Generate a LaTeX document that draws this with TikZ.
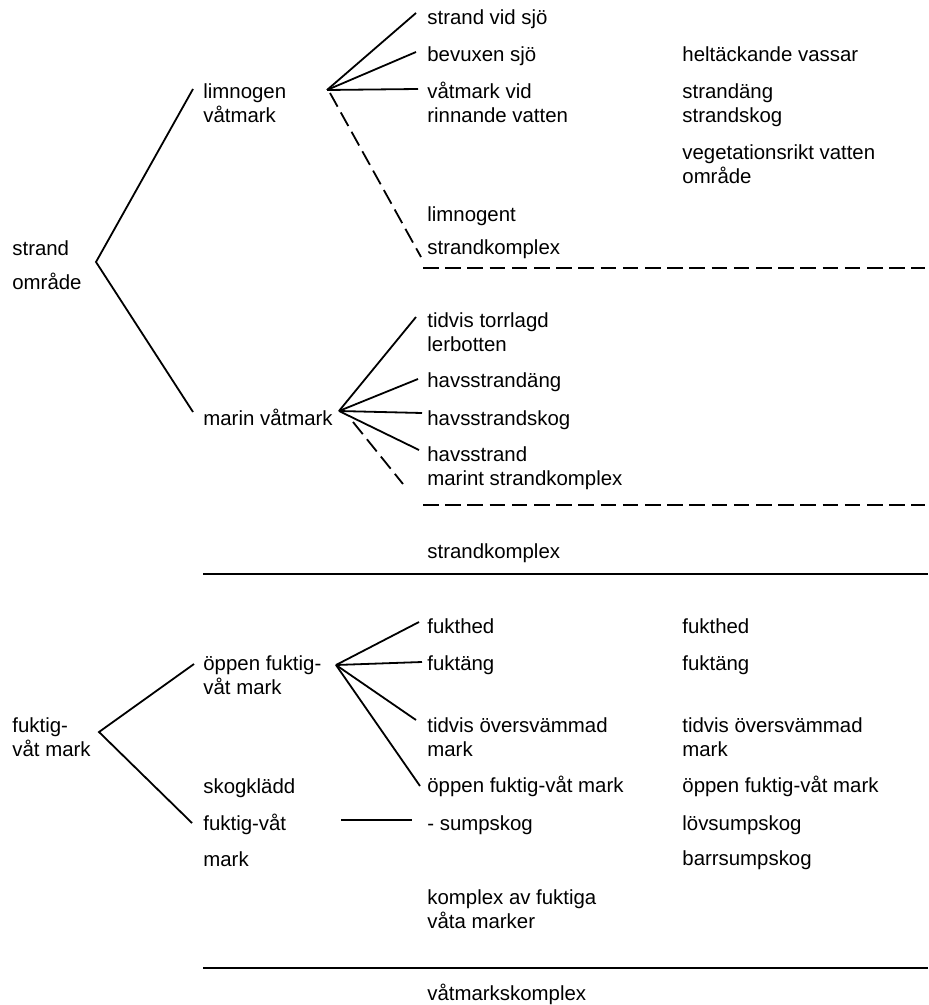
\documentclass[tikz,border=0pt]{standalone}
\usepackage{fontspec}
\setmainfont{Liberation Sans}
\tikzset{
  lbl/.style={anchor=base west, inner sep=0pt, align=left, font=\fontsize{10.2}{12}\selectfont},
  lnk/.style={line width=0.9pt},
  dsh/.style={line width=0.9pt, dash pattern=on 7.8pt off 3.3pt},
}
\begin{document}
\begin{tikzpicture}[x=0.5pt,y=-0.5pt]
  \useasboundingbox (0,0) rectangle (928,1005);

  % Place the first column (two-line nodes sit on their last line)
  \node[lbl] (strand) at (12,256) {strand};
  \node[lbl] (omr) at (12,290) {område};
  \node[lbl] (fuktvat) at (12,756) {fuktig-\\våt mark};

  % Place the second column
  \node[lbl] (limn) at (203,123) {limnogen\\våtmark};
  \node[lbl] (marin) at (203,425) {marin våtmark};
  \node[lbl] (oppen) at (203,694) {öppen fuktig-\\våt mark};
  \node[lbl] (skog) at (203,793) {skogklädd};
  \node[lbl] (fvat) at (203,830) {fuktig-våt};
  \node[lbl] (mark) at (203,866) {mark};

  % Place the third column
  \node[lbl] (sjo) at (427,25) {strand vid sjö};
  \node[lbl] (bevux) at (427,62) {bevuxen sjö};
  \node[lbl] (rinn) at (427,123) {våtmark vid\\rinnande vatten};
  \node[lbl] (limnt) at (427,222) {limnogent};
  \node[lbl] (skompl) at (427,255) {strandkomplex};
  \node[lbl] (torr) at (427,351) {tidvis torrlagd\\lerbotten};
  \node[lbl] (hang) at (427,387) {havsstrandäng};
  \node[lbl] (hskog) at (427,425) {havsstrandskog};
  \node[lbl] (hstrand) at (427,485) {havsstrand\\marint strandkomplex};
  \node[lbl] (strkompl) at (427,558) {strandkomplex};
  \node[lbl] (fhed) at (427,633) {fukthed};
  \node[lbl] (fang) at (427,670) {fuktäng};
  \node[lbl] (tidv) at (427,756) {tidvis översvämmad\\mark};
  \node[lbl] (oppfv) at (427,792) {öppen fuktig-våt mark};
  \node[lbl] (sump) at (427,830) {- sumpskog};
  \node[lbl] (kompl) at (427,928) {komplex av fuktiga\\våta marker};
  \node[lbl] (vkompl) at (427,1000) {våtmarkskomplex};

  % Place the fourth column
  \node[lbl] (helt) at (682,62) {heltäckande vassar};
  \node[lbl] (sang) at (682,123) {strandäng\\strandskog};
  \node[lbl] (veg) at (682,184) {vegetationsrikt vatten\\område};
  \node[lbl] (rfhed) at (682,633) {fukthed};
  \node[lbl] (rfang) at (682,670) {fuktäng};
  \node[lbl] (rtidv) at (682,756) {tidvis översvämmad\\mark};
  \node[lbl] (roppfv) at (682,792) {öppen fuktig-våt mark};
  \node[lbl] (lovs) at (682,830) {lövsumpskog};
  \node[lbl] (barrs) at (682,865) {barrsumpskog};

  % Branch points
  \coordinate (vStrand) at (96,262);
  \coordinate (fLimn) at (327,90);
  \coordinate (dLimn) at (330,93);
  \coordinate (fMarin) at (339,411);
  \coordinate (dMarin) at (353,422);
  \coordinate (vFukt) at (99,732);
  \coordinate (fOppen) at (336,665);

  % The lines!
  \draw[lnk] ([shift={(-10,-34)}]limn.base west) -- (vStrand) -- ([shift={(-10,-13)}]marin.base west);
  \draw[lnk] ([shift={(-9,-30)}]oppen.base west) -- (vFukt) -- ([shift={(-11,-7)}]fvat.base west);

  \draw[lnk] (fLimn) -- ([shift={(-11,-12)}]sjo.base west);
  \draw[lnk] (fLimn) -- ([shift={(-11,-10)}]bevux.base west);
  \draw[lnk] (fLimn) -- ([shift={(-9,-34)}]rinn.base west);
  \draw[dsh] (dLimn) -- ([shift={(-6,2)}]skompl.base west);

  \draw[lnk] (fMarin) -- ([shift={(-11,-34)}]torr.base west);
  \draw[lnk] (fMarin) -- ([shift={(-9,-8)}]hang.base west);
  \draw[lnk] (fMarin) -- ([shift={(-5,-12)}]hskog.base west);
  \draw[lnk] (fMarin) -- ([shift={(-8,-35)}]hstrand.base west);
  \draw[dsh] (dMarin) -- ([shift={(-24,-1)}]hstrand.base west);

  \draw[lnk] (fOppen) -- ([shift={(-8,-11)}]fhed.base west);
  \draw[lnk] (fOppen) -- ([shift={(-5,-8)}]fang.base west);
  \draw[lnk] (fOppen) -- ([shift={(-11,-36)}]tidv.base west);
  \draw[lnk] (fOppen) -- ([shift={(-7,-6)}]oppfv.base west);
  \draw[lnk] ([shift={(-86,-10)}]sump.base west) -- ([shift={(-15,-10)}]sump.base west);

  % Section rules
  \draw[dsh] (423,268) -- (925,268);
  \draw[dsh] (423,505) -- (925,505);
  \draw[lnk,line width=1pt] (203,574) -- (928,574);
  \draw[lnk,line width=1pt] (203,968) -- (928,968);
\end{tikzpicture}
\end{document}
